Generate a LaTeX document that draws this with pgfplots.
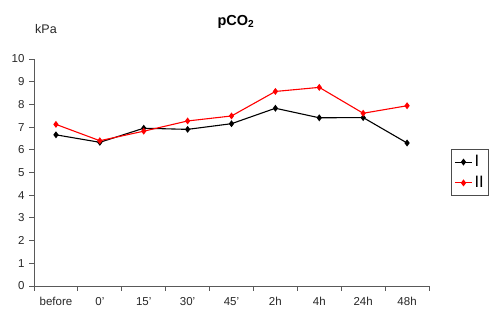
\documentclass[border=0pt]{standalone}
\usepackage{pgfplots}
\pgfplotsset{compat=1.18}
\usepackage{fontspec}
\setmainfont{Liberation Sans}
\begin{document}
\begin{tikzpicture}[x=1pt,y=1pt]
\path[use as bounding box] (0,0) rectangle (500,326);
\begin{axis}[
  at={(34pt,40pt)}, anchor=south west,
  scale only axis, width=395pt, height=227pt,
  xmin=-0.5, xmax=8.5, ymin=0, ymax=10,
  axis lines=left, axis line style={-, black!65, line width=0.8pt},
  xtick={0,...,8},
  xticklabels={before,0',15',30',45',2h,4h,24h,48h},
  major x tick style={draw=none},
  minor xtick={-0.5,0.5,...,8.5},
  minor x tick style={black!65, line width=0.8pt},
  minor tick length=5pt,
  ytick={0,...,10},
  major y tick style={black!65, line width=0.8pt},
  tick align=outside, major tick length=5pt,
  ticklabel style={font=\fontsize{11.5}{13}\selectfont, text=black!85},
  xticklabel style={yshift=-3pt},
  yticklabel style={xshift=-1pt},
  /pgf/number format/assume math mode=true,
  legend style={at={(rel axis cs:1,0.5)}, anchor=west, xshift=22pt,
    draw=black!70, line width=0.8pt, font=\fontsize{16.5}{17}\selectfont, inner xsep=3pt, inner ysep=4pt,
    row sep=4pt, cells={anchor=west}},
  every axis plot/.append style={line width=1.1pt, mark=diamond*, mark size=2.6pt},
  clip=false,
]
\addplot[color=black, mark options={fill=black}] coordinates {
 (0,6.66) (1,6.33) (2,6.95) (3,6.9) (4,7.15) (5,7.83) (6,7.41) (7,7.42) (8,6.3)};
\addlegendentry{I}
\addplot[color=red, mark options={fill=red}] coordinates {
 (0,7.12) (1,6.4) (2,6.82) (3,7.27) (4,7.49) (5,8.57) (6,8.75) (7,7.61) (8,7.94)};
\addlegendentry{II}
\end{axis}
\node[font=\bfseries\fontsize{14.5}{16}\selectfont] at (236,304) {pCO\textsubscript{2}};
\node[font=\fontsize{12.5}{14}\selectfont, text=black!85] at (46,297) {kPa};
\end{tikzpicture}
\end{document}
